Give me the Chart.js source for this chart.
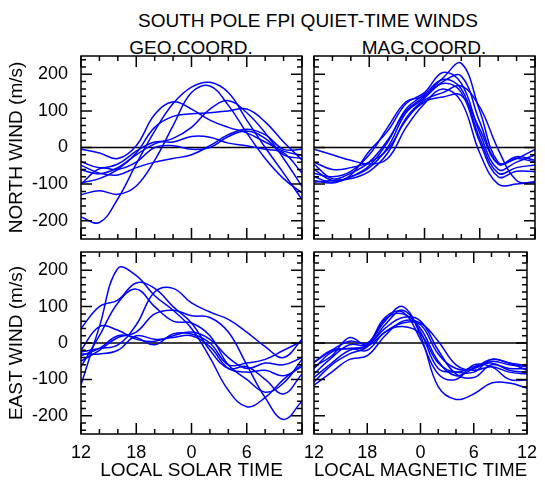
<!DOCTYPE html>
<html>
<head>
<meta charset="utf-8">
<script src="https://cdn.jsdelivr.net/npm/chart.js@4.4.0/dist/chart.umd.min.js"></script>
<style>
  body { margin: 0; background: #fff; }
  #wrap { position: relative; width: 545px; height: 483px; font-family: "Liberation Sans", Arial, Helvetica, sans-serif; }
  canvas { position: absolute; left: 0; top: 0; }
  .t { position: absolute; font-size: 19px; line-height: 1; color: #000; white-space: nowrap; transform: translate(-50%, -50%); }
</style>
</head>
<body>
<div id="wrap">
  <div class="t" style="left:308px;top:20px">SOUTH POLE FPI QUIET-TIME WINDS</div>
  <div class="t" style="left:191px;top:47px">GEO.COORD.</div>
  <div class="t" style="left:424px;top:47px">MAG.COORD.</div>
  <canvas id="northGeo" width="545" height="483"></canvas>
  <canvas id="northMag" width="545" height="483"></canvas>
  <canvas id="eastGeo" width="545" height="483"></canvas>
  <canvas id="eastMag" width="545" height="483"></canvas>
</div>
<script>
// hours after local noon (12 -> 18 -> 0 -> 6 -> 12)
const HOURS = [0, 2, 4, 6, 8, 10, 12, 14, 16, 18, 20, 22, 24];
const X_TICKS = [0, 6, 12, 18, 24];
const X_LABELS = ['12', '18', '0', '6', '12'];
const Y_TICKS = [-200, -100, 0, 100, 200];

// north wind, geographic coords (m/s)
const NORTH_GEO = [
  [-190, -205, -140, -45, 45, 120, 165, 178, 150, 75, 0, -70, -142],
  [-129, -118, -128, -105, -35, 60, 150, 168, 115, 40, -30, -85, -124],
  [-5, -15, -30, 5, 90, 125, 105, 75, 55, 40, 15, -10, -21],
  [-61, -72, -55, -20, 10, 25, 55, 105, 128, 95, 40, -30, -106],
  [-97, -85, -60, -15, 55, 85, 92, 95, 100, 105, 70, 15, -34],
  [-39, -55, -45, -10, 15, 15, 30, 28, 12, 5, -5, -15, -70],
  [-48, -70, -75, -55, -40, -30, -20, 5, 35, 50, 35, -5, -5],
  [-100, -58, -60, -40, 0, 5, -5, 0, 30, 45, 25, -20, -30]
];

// north wind, magnetic coords
const NORTH_MAG = [
  [-45, -85, -70, -40, 20, 100, 140, 190, 230, 100, -40, -30, -5],
  [-80, -95, -75, -10, 45, 120, 150, 205, 175, 40, -60, -40, -20],
  [-60, -90, -80, -55, 0, 95, 135, 180, 195, 70, -45, -30, -40],
  [-90, -97, -80, -50, 15, 105, 145, 186, 160, 25, -70, -55, -48],
  [-70, -80, -65, -20, 55, 125, 140, 175, 150, 15, -80, -65, -66],
  [-95, -90, -85, -65, -15, 80, 130, 150, 168, 110, -5, -90, -97],
  [-5, -20, -35, -45, -30, 55, 120, 160, 125, -15, -100, -100, -93],
  [-40, -60, -55, -40, -5, 75, 125, 138, 142, 50, -45, -25, -35]
];

// east wind, geographic coords
const EAST_GEO = [
  [-115, 45, 205, 185, 130, 90, 40, -40, -130, -175, -150, -100, -60],
  [40, 100, 118, 165, 150, 100, 55, -20, -70, -65, -100, -140, -85],
  [-65, 20, 110, 148, 100, 60, 55, 20, -60, -100, -135, -110, -45],
  [-25, -15, -5, 50, 140, 150, 110, 85, 65, 30, -10, -40, 10],
  [-50, -20, 15, 30, 80, 90, 75, 70, 30, -60, -150, -210, -160],
  [-20, 45, 35, 10, 5, 20, 30, 10, -40, -70, -55, -60, -40],
  [-35, -15, 20, 15, -5, 25, 25, 0, -60, -55, -45, -20, 5],
  [-30, -30, -20, 20, 10, 15, 20, -10, -70, -80, -75, -90, -65]
];

// east wind, magnetic coords
const EAST_MAG = [
  [-53, -20, 5, 0, 60, 100, 20, -120, -155, -140, -110, -110, -124],
  [-65, -35, 15, -5, 50, 90, 30, -70, -80, -80, -45, -55, -62],
  [-107, -60, -30, -10, 65, 80, 40, -50, -90, -70, -45, -55, -75],
  [-85, -40, -5, -5, 40, 70, 60, -20, -85, -95, -60, -70, -70],
  [-116, -80, -45, -35, 20, 60, 55, 5, -60, -75, -65, -80, -85],
  [-53, -20, -15, -5, 70, 85, 10, -85, -100, -60, -65, -100, -102],
  [-95, -55, -20, -10, 30, 55, 50, -30, -70, -70, -50, -60, -65],
  [-70, -25, -15, -20, 30, 45, 25, -55, -80, -65, -55, -75, -80]
];

Chart.defaults.font.family = '"Liberation Sans", Arial, Helvetica, sans-serif';
Chart.defaults.font.size = 18;
Chart.defaults.color = '#000';

// IDL style frame with inward ticks on all four sides
const framePlugin = {
  id: 'frame',
  afterDatasetsDraw(chart) {
    const { ctx, chartArea: a, scales: { x, y } } = chart;
    ctx.save();
    ctx.strokeStyle = '#000';
    ctx.lineWidth = 1.5;
    ctx.beginPath();
    for (let h = 0; h <= 24; h += 2) {
      const px = x.getPixelForValue(h);
      const len = h % 6 ? 5 : 11;
      ctx.moveTo(px, a.bottom); ctx.lineTo(px, a.bottom - len);
      ctx.moveTo(px, a.top); ctx.lineTo(px, a.top + len);
    }
    for (let v = -240; v <= 240; v += 20) {
      const py = y.getPixelForValue(v);
      const len = v % 100 ? 5 : 11;
      ctx.moveTo(a.left, py); ctx.lineTo(a.left + len, py);
      ctx.moveTo(a.right, py); ctx.lineTo(a.right - len, py);
    }
    ctx.stroke();
    ctx.strokeRect(a.left, a.top, a.right - a.left, a.bottom - a.top);
    ctx.restore();
  }
};

function makePanel(id, series, isLeft, isBottom, yTitle, xTitle) {
  const datasets = series.map(s => ({
    data: s.map((v, i) => ({ x: HOURS[i], y: v })),
    borderColor: '#0000ff',
    borderWidth: 1.5,
    pointRadius: 0,
    tension: 0.4,
    fill: false
  }));
  datasets.push({
    data: [{ x: 0, y: 0 }, { x: 24, y: 0 }],
    borderColor: '#000',
    borderWidth: 1.5,
    pointRadius: 0
  });

  return new Chart(document.getElementById(id), {
    type: 'line',
    data: { datasets },
    options: {
      responsive: false,
      animation: false,
      devicePixelRatio: 1,
      layout: {
        padding: {
          left: 0,
          right: isLeft ? 243 : 10,
          top: isBottom ? 252 : 56,
          bottom: isBottom ? 0 : 244
        }
      },
      plugins: { legend: { display: false }, tooltip: { enabled: false } },
      scales: {
        x: {
          type: 'linear',
          min: 0,
          max: 24,
          grid: { display: false, drawTicks: false },
          border: { display: false },
          afterBuildTicks: s => { s.ticks = X_TICKS.map(v => ({ value: v })); },
          ticks: {
            display: isBottom,
            autoSkip: false,
            maxRotation: 0,
            padding: 8,
            callback: v => (isLeft && v === 24) ? '' : X_LABELS[X_TICKS.indexOf(v)]
          },
          title: { display: isBottom, text: xTitle, font: { size: 19 }, padding: { top: 0, bottom: 1 } },
          afterFit: s => { s.height = isBottom ? 49 : 0; }
        },
        y: {
          min: -250,
          max: 250,
          grid: { display: false, drawTicks: false },
          border: { display: false },
          afterBuildTicks: s => { s.ticks = Y_TICKS.map(v => ({ value: v })); },
          ticks: { display: isLeft, padding: 13, callback: v => String(v) },
          title: { display: isLeft, text: yTitle, font: { size: 19 }, padding: { top: 5, bottom: 0 } },
          afterFit: s => { s.width = isLeft ? 81 : 314; }
        }
      }
    },
    plugins: [framePlugin]
  });
}

makePanel('northGeo', NORTH_GEO, true, false, 'NORTH WIND (m/s)', '');
makePanel('northMag', NORTH_MAG, false, false, '', '');
makePanel('eastGeo', EAST_GEO, true, true, 'EAST WIND (m/s)', 'LOCAL SOLAR TIME');
makePanel('eastMag', EAST_MAG, false, true, '', 'LOCAL MAGNETIC TIME');
</script>
</body>
</html>
